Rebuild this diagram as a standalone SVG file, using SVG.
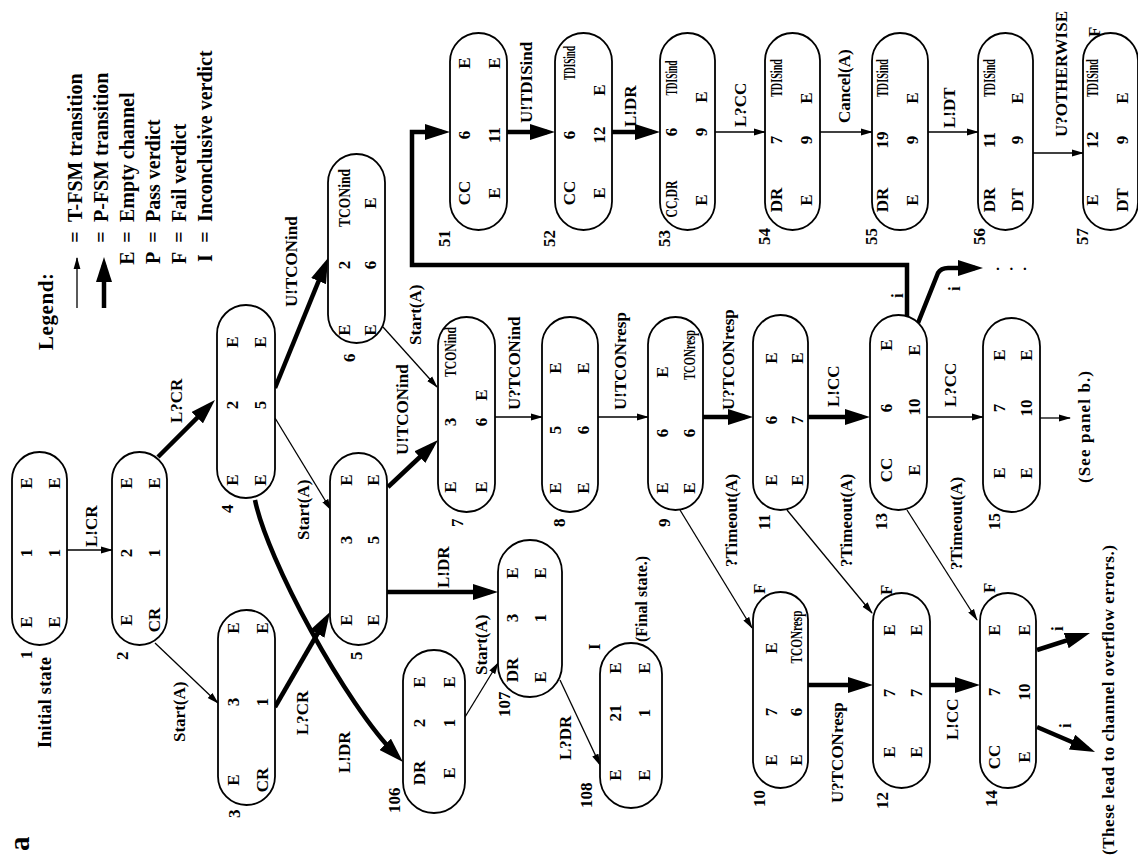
<svg xmlns="http://www.w3.org/2000/svg" width="1138" height="859" viewBox="0 0 1138 859">
<style>
.nd{fill:#fff;stroke:#000;stroke-width:1.8}
text{font-family:"Liberation Serif","Times New Roman",serif;font-weight:bold;fill:#000}
.v{font-size:17px;text-anchor:middle}
.id{font-size:17px}
.l{font-size:17px}
.lg{font-size:20px}
.lc{font-size:20px;text-anchor:middle}
.th{fill:none;stroke:#000;stroke-width:1.3;marker-end:url(#ah)}
.tk{fill:none;stroke:#000;stroke-width:4.5;stroke-linejoin:miter;marker-end:url(#AH)}
</style>
<defs>
<marker id="ah" viewBox="0 0 12 8" markerWidth="12" markerHeight="8" refX="11" refY="4" orient="auto" markerUnits="userSpaceOnUse"><path d="M0,0.6 L12,4 L0,7.4 Z"/></marker>
<marker id="AH" viewBox="0 0 25 16" markerWidth="25" markerHeight="16" refX="17" refY="8" orient="auto" markerUnits="userSpaceOnUse"><path d="M0,0 L25,8 L0,16 Z"/></marker>
</defs>
<rect width="1138" height="859" fill="#fff"/>
<g transform="translate(0,859) rotate(-90)">
<text x="8" y="29" style="font-size:29px">a</text>
<g id="legend">
<text class="lg" x="509" y="53" style="font-size:21px" textLength="77">Legend:</text>
<path class="th" d="M551,77 L601,77"/>
<path class="tk" d="M551,104 L594,104"/>
<text class="lc" x="622" y="82">=</text><text class="lg" x="637" y="82">T-FSM transition</text>
<text class="lc" x="622" y="108">=</text><text class="lg" x="637" y="108">P-FSM transition</text>
<text class="lc" x="601" y="134">E</text><text class="lc" x="622" y="134">=</text><text class="lg" x="637" y="134">Empty channel</text>
<text class="lc" x="601" y="160">P</text><text class="lc" x="622" y="160">=</text><text class="lg" x="637" y="160">Pass verdict</text>
<text class="lc" x="601" y="186">F</text><text class="lc" x="622" y="186">=</text><text class="lg" x="637" y="186">Fail verdict</text>
<text class="lc" x="601" y="212">I</text><text class="lc" x="622" y="212">=</text><text class="lg" x="637" y="212">Inconclusive verdict</text>
</g>
<g id="connectors">
<path class="th" d="M309,67 L309,112"/>
<path class="tk" d="M402,158 L453.3,209.3"/>
<path class="th" d="M216,155 L156,218"/>
<path class="tk" d="M152,275 L240,326"/>
<path class="tk" d="M359,255 C300,267 155,345 102.7,397.3"/>
<path class="th" d="M441,275 L349,331"/>
<path class="tk" d="M471,275 L593.6,325"/>
<path class="tk" d="M372,388 L413.5,432.2"/>
<path class="th" d="M532,383 L472,437"/>
<path class="tk" d="M267,387 L267,490"/>
<path class="th" d="M142,465 L196,498"/>
<path class="th" d="M179,560 L94,600"/>
<path class="th" d="M442,495 L442,542"/>
<path class="th" d="M442,598 L442,648"/>
<path class="tk" d="M442,703 L442,745"/>
<path class="th" d="M349,680 L231,752"/>
<path class="tk" d="M174,808 L174,865"/>
<path class="th" d="M349,787 L246,872"/>
<path class="tk" d="M442,808 L442,862"/>
<path class="th" d="M442,927 L442,983"/>
<path class="th" d="M441,1040 L441,1070"/>
<path class="th" d="M349,907 L239,977"/>
<path class="tk" d="M174,930 L174,972"/>
<path class="tk" d="M209,1037 L223.6,1082.4"/>
<path class="tk" d="M132,1037 L110.2,1087.7"/>
<path class="tk" d="M542,907 L594,907 L594,412 L727,412 L727,442"/>
<path class="tk" d="M536,918 L586,938 Q591,941 591,948 L591,975"/>
<path class="tk" d="M727,507 L727,547"/>
<path class="tk" d="M727,612 L727,652"/>
<path class="th" d="M727,715 L727,765"/>
<path class="th" d="M727,820 L727,872"/>
<path class="th" d="M727,928 L727,978"/>
<path class="th" d="M706,1033 L706,1083"/>
<text class="l" x="312" y="97">L!CR</text>
<text class="l" x="436" y="182">L?CR</text>
<text class="l" x="117" y="185">Start(A)</text>
<text class="l" x="124" y="308">L?CR</text>
<text class="l" x="86" y="350">L!DR</text>
<text class="l" x="319" y="309">Start(A)</text>
<text class="l" x="552" y="297">U!TCONind</text>
<text class="l" x="404" y="408">U!TCONind</text>
<text class="l" x="514" y="421">Start(A)</text>
<text class="l" x="271" y="449">L!DR</text>
<text class="l" x="184" y="487">Start(A)</text>
<text class="l" x="99" y="571">L?DR</text>
<text class="l" x="449" y="520">U?TCONind</text>
<text class="l" x="449" y="626">U!TCONresp</text>
<text class="l" x="449" y="734">U?TCONresp</text>
<text class="l" x="292" y="737">?Timeout(A)</text>
<text class="l" x="56" y="843">U?TCONresp</text>
<text class="l" x="292" y="852">?Timeout(A)</text>
<text class="l" x="452" y="839">L!CC</text>
<text class="l" x="452" y="956">L?CC</text>
<text class="l" x="289" y="962">?Timeout(A)</text>
<text class="l" x="119" y="958">L!CC</text>
<text class="l" x="228" y="1063">i</text>
<text class="l" x="131" y="1071">i</text>
<text class="l" x="561" y="903">i</text>
<text class="l" x="568" y="960">i</text>
<text class="l" x="736" y="532">U!TDISind</text>
<text class="l" x="732" y="636">L!DR</text>
<text class="l" x="732" y="746">L?CC</text>
<text class="l" x="736" y="850">Cancel(A)</text>
<text class="l" x="731" y="955">L!DT</text>
<text class="l" x="722" y="1067">U?OTHERWISE</text>
</g>
<g id="n1"><rect class="nd" x="214" y="12" width="193" height="55" rx="27.5"/>
<text class="v" x="237" y="32">E</text><text class="v" x="306" y="32">1</text><text class="v" x="376" y="32">E</text>
<text class="v" x="237" y="60">E</text><text class="v" x="306" y="60">1</text><text class="v" x="376" y="60">E</text>
<text class="id" x="200" y="32">1</text><text class="id" x="111" y="51" style="font-size:18px" textLength="91">Initial state</text></g>
<g id="n2"><rect class="nd" x="214" y="112" width="193" height="55" rx="27.5"/>
<text class="v" x="239" y="132">E</text><text class="v" x="306" y="132">2</text><text class="v" x="376" y="132">E</text>
<text class="v" x="239" y="160">CR</text><text class="v" x="306" y="160">1</text><text class="v" x="376" y="160">E</text>
<text class="id" x="199" y="128">2</text></g>
<g id="n3"><rect class="nd" x="54" y="218" width="195" height="57" rx="28.5"/>
<text class="v" x="79" y="239">E</text><text class="v" x="157" y="239">3</text><text class="v" x="231" y="239">E</text>
<text class="v" x="79" y="268">CR</text><text class="v" x="157" y="268">1</text><text class="v" x="231" y="268">E</text>
<text class="id" x="41" y="240">3</text></g>
<g id="n4"><rect class="nd" x="361" y="217" width="193" height="58" rx="29"/>
<text class="v" x="379" y="238">E</text><text class="v" x="454" y="238">2</text><text class="v" x="517" y="238">E</text>
<text class="v" x="379" y="266">E</text><text class="v" x="454" y="266">5</text><text class="v" x="517" y="266">E</text>
<text class="id" x="346" y="233">4</text></g>
<g id="n5"><rect class="nd" x="214" y="330" width="192" height="57" rx="28.5"/>
<text class="v" x="239" y="352">E</text><text class="v" x="319" y="352">3</text><text class="v" x="379" y="352">E</text>
<text class="v" x="239" y="379">E</text><text class="v" x="319" y="379">5</text><text class="v" x="379" y="379">E</text>
<text class="id" x="199" y="362">5</text></g>
<g id="n6"><rect class="nd" x="516" y="328" width="189" height="57" rx="28.5"/>
<text class="v" x="529" y="350">E</text><text class="v" x="594" y="350">2</text><text class="v" x="661" y="350" textLength="58" lengthAdjust="spacingAndGlyphs">TCONind</text>
<text class="v" x="529" y="376">E</text><text class="v" x="594" y="376">6</text><text class="v" x="656" y="376">E</text>
<text class="id" x="497" y="355">6</text></g>
<g id="n7"><rect class="nd" x="347" y="438" width="195" height="57" rx="28.5"/>
<text class="v" x="372" y="456">E</text><text class="v" x="437" y="456">3</text><text class="v" x="507" y="456" textLength="50" lengthAdjust="spacingAndGlyphs">TCONind</text>
<text class="v" x="372" y="487">E</text><text class="v" x="437" y="487">6</text><text class="v" x="464" y="487">E</text>
<text class="id" x="332" y="463">7</text></g>
<g id="n8"><rect class="nd" x="347" y="542" width="195" height="56" rx="28"/>
<text class="v" x="371" y="561">E</text><text class="v" x="429" y="561">5</text><text class="v" x="491" y="561">E</text>
<text class="v" x="371" y="589">E</text><text class="v" x="429" y="589">6</text><text class="v" x="491" y="589">E</text>
<text class="id" x="332" y="565">8</text></g>
<g id="n9"><rect class="nd" x="349" y="648" width="193" height="55" rx="27.5"/>
<text class="v" x="371" y="668">E</text><text class="v" x="426" y="668">6</text><text class="v" x="487" y="668">E</text>
<text class="v" x="371" y="695">E</text><text class="v" x="426" y="695">6</text><text class="v" x="504" y="695" textLength="50" lengthAdjust="spacingAndGlyphs">TCONresp</text>
<text class="id" x="332" y="670">9</text></g>
<g id="n10"><rect class="nd" x="71" y="753" width="196" height="55" rx="27.5"/>
<text class="v" x="99" y="777">E</text><text class="v" x="147" y="777">7</text><text class="v" x="211" y="777">E</text>
<text class="v" x="99" y="802">E</text><text class="v" x="147" y="802">6</text><text class="v" x="222" y="802" textLength="53" lengthAdjust="spacingAndGlyphs">TCONresp</text>
<text class="id" x="52" y="765">10</text><text class="id" x="265" y="765">F</text></g>
<g id="n11"><rect class="nd" x="349" y="753" width="195" height="55" rx="27.5"/>
<text class="v" x="379" y="777">E</text><text class="v" x="439" y="777">6</text><text class="v" x="501" y="777">E</text>
<text class="v" x="379" y="803">E</text><text class="v" x="439" y="803">7</text><text class="v" x="501" y="803">E</text>
<text class="id" x="329" y="770">11</text></g>
<g id="n12"><rect class="nd" x="71" y="873" width="195" height="57" rx="28.5"/>
<text class="v" x="107" y="895">E</text><text class="v" x="166" y="895">7</text><text class="v" x="229" y="895">E</text>
<text class="v" x="107" y="922">E</text><text class="v" x="166" y="922">7</text><text class="v" x="229" y="922">E</text>
<text class="id" x="50" y="888">12</text><text class="id" x="264" y="892">F</text></g>
<g id="n13"><rect class="nd" x="349" y="870" width="195" height="57" rx="28.5"/>
<text class="v" x="389" y="892">CC</text><text class="v" x="451" y="892">6</text><text class="v" x="514" y="892">E</text>
<text class="v" x="389" y="920">E</text><text class="v" x="452" y="920">10</text><text class="v" x="509" y="920">E</text>
<text class="id" x="329" y="887">13</text></g>
<g id="n14"><rect class="nd" x="71" y="980" width="195" height="56" rx="28"/>
<text class="v" x="102" y="1000">CC</text><text class="v" x="167" y="1000">7</text><text class="v" x="229" y="1000">E</text>
<text class="v" x="102" y="1030">E</text><text class="v" x="167" y="1030">10</text><text class="v" x="229" y="1030">E</text>
<text class="id" x="52" y="997">14</text><text class="id" x="266" y="995">F</text></g>
<g id="n15"><rect class="nd" x="347" y="983" width="194" height="57" rx="28.5"/>
<text class="v" x="386" y="1005">E</text><text class="v" x="451" y="1005">7</text><text class="v" x="504" y="1005">E</text>
<text class="v" x="386" y="1032">E</text><text class="v" x="451" y="1032">10</text><text class="v" x="504" y="1032">E</text>
<text class="id" x="329" y="1000">15</text>
<text class="l" x="376" y="1090" textLength="112">(See panel b.)</text></g>
<g id="n51"><rect class="nd" x="629" y="450" width="197" height="57" rx="28.5"/>
<text class="v" x="666" y="470">CC</text><text class="v" x="724" y="470">6</text><text class="v" x="796" y="470">E</text>
<text class="v" x="666" y="500">E</text><text class="v" x="724" y="500">11</text><text class="v" x="796" y="500">E</text>
<text class="id" x="612" y="450">51</text></g>
<g id="n52"><rect class="nd" x="629" y="555" width="197" height="57" rx="28.5"/>
<text class="v" x="666" y="575">CC</text><text class="v" x="724" y="575">6</text><text class="v" x="796" y="575" textLength="34" lengthAdjust="spacingAndGlyphs">TDISind</text>
<text class="v" x="666" y="605">E</text><text class="v" x="724" y="605">12</text><text class="v" x="769" y="605">E</text>
<text class="id" x="612" y="555">52</text></g>
<g id="n53"><rect class="nd" x="629" y="660" width="197" height="55" rx="27.5"/>
<text class="v" x="660" y="677" textLength="37" lengthAdjust="spacingAndGlyphs">CC,DR</text><text class="v" x="727" y="677">6</text><text class="v" x="781" y="677" textLength="35" lengthAdjust="spacingAndGlyphs">TDISind</text>
<text class="v" x="659" y="707">E</text><text class="v" x="727" y="707">9</text><text class="v" x="762" y="707">E</text>
<text class="id" x="612" y="670">53</text></g>
<g id="n54"><rect class="nd" x="629" y="765" width="197" height="55" rx="27.5"/>
<text class="v" x="659" y="782">DR</text><text class="v" x="719" y="782">7</text><text class="v" x="781" y="782" textLength="38" lengthAdjust="spacingAndGlyphs">TDISind</text>
<text class="v" x="659" y="812">E</text><text class="v" x="719" y="812">9</text><text class="v" x="761" y="812">E</text>
<text class="id" x="614" y="770">54</text></g>
<g id="n55"><rect class="nd" x="629" y="872" width="197" height="56" rx="28"/>
<text class="v" x="659" y="888">DR</text><text class="v" x="719" y="888">19</text><text class="v" x="781" y="888" textLength="38" lengthAdjust="spacingAndGlyphs">TDISind</text>
<text class="v" x="659" y="918">E</text><text class="v" x="719" y="918">9</text><text class="v" x="761" y="918">E</text>
<text class="id" x="614" y="877">55</text></g>
<g id="n56"><rect class="nd" x="629" y="978" width="197" height="55" rx="27.5"/>
<text class="v" x="659" y="995">DR</text><text class="v" x="719" y="995">11</text><text class="v" x="781" y="995" textLength="38" lengthAdjust="spacingAndGlyphs">TDISind</text>
<text class="v" x="659" y="1023">DT</text><text class="v" x="719" y="1023">9</text><text class="v" x="761" y="1023">E</text>
<text class="id" x="614" y="985">56</text></g>
<g id="n57"><rect class="nd" x="629" y="1083" width="197" height="55" rx="27.5"/>
<text class="v" x="659" y="1098">E</text><text class="v" x="719" y="1098">12</text><text class="v" x="781" y="1098" textLength="38" lengthAdjust="spacingAndGlyphs">TDISind</text>
<text class="v" x="659" y="1128">DT</text><text class="v" x="719" y="1128">9</text><text class="v" x="761" y="1128">E</text>
<text class="id" x="614" y="1088">57</text><text class="id" x="822" y="1100">F</text></g>
<g id="n106"><rect class="nd" x="46" y="403" width="163" height="62" rx="31"/>
<text class="v" x="86" y="425">DR</text><text class="v" x="136" y="425">2</text><text class="v" x="177" y="425">E</text>
<text class="v" x="86" y="455">E</text><text class="v" x="136" y="455">1</text><text class="v" x="177" y="455">E</text>
<text class="id" x="46" y="400">106</text></g>
<g id="n107"><rect class="nd" x="162" y="498" width="157" height="64" rx="32"/>
<text class="v" x="189" y="518">DR</text><text class="v" x="241" y="518">3</text><text class="v" x="286" y="518">E</text>
<text class="v" x="182" y="546">E</text><text class="v" x="241" y="546">1</text><text class="v" x="286" y="546">E</text>
<text class="id" x="142" y="510">107</text></g>
<g id="n108"><rect class="nd" x="51" y="600" width="165" height="62" rx="31"/>
<text class="v" x="84" y="621">E</text><text class="v" x="146" y="621">21</text><text class="v" x="191" y="621">E</text>
<text class="v" x="84" y="650">E</text><text class="v" x="146" y="650">1</text><text class="v" x="191" y="650">E</text>
<text class="id" x="51" y="592">108</text><text class="id" x="209" y="600">I</text>
<text class="l" x="217" y="647" style="font-size:16px">(Final state.)</text></g>
<text class="l" x="4" y="1114" textLength="310">(These lead to channel overflow errors.)</text>
</g>
<text x="996" y="270" style="font-size:15px;letter-spacing:3px">. . .</text>
</svg>
